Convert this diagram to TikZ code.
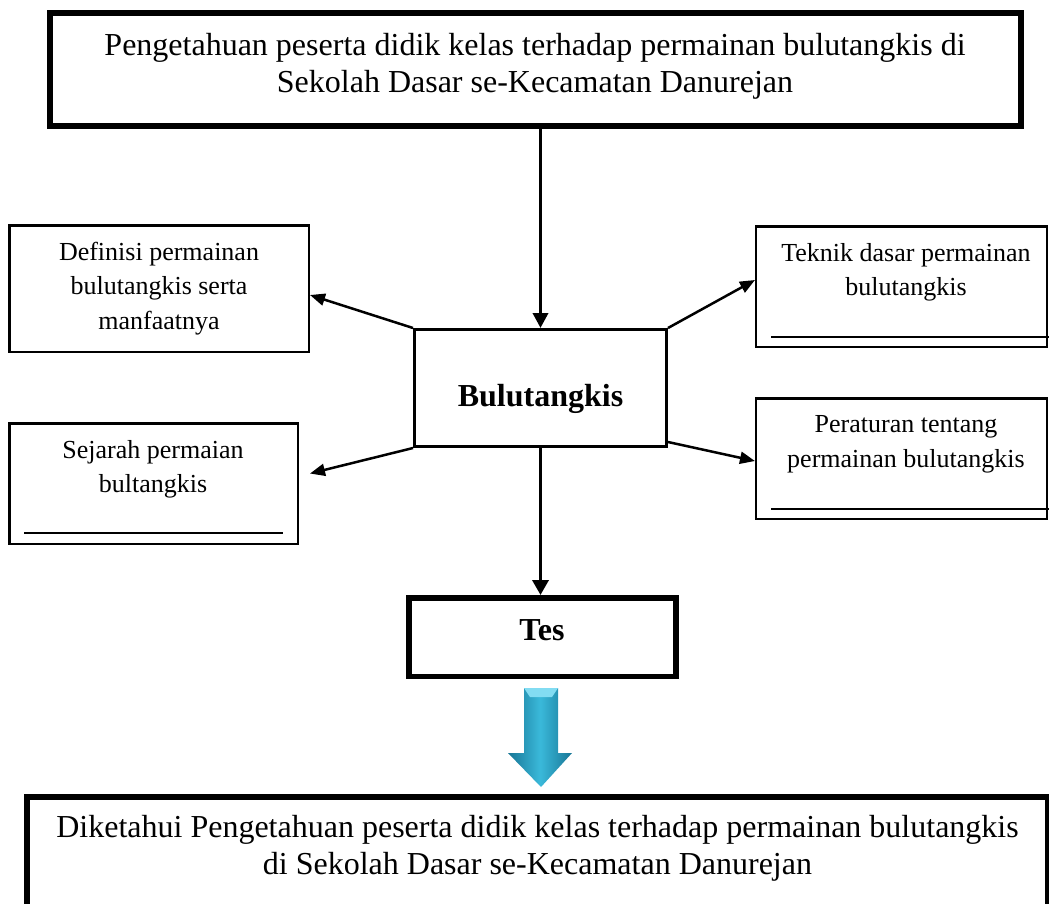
\documentclass[tikz,border=0pt]{standalone}
\usepackage{fontspec}
\setmainfont{Liberation Serif}
\usetikzlibrary{arrows.meta}

\definecolor{biru}{RGB}{58,185,218}
\definecolor{birutua}{RGB}{24,118,150}
\definecolor{birumuda}{RGB}{130,220,242}

\tikzset{
  kotak/.style={draw,line width=2.5pt,inner sep=0pt},
  tebal/.style={draw,line width=6pt,inner sep=0pt},
  teks/.style={inner sep=0pt,align=center,font=\fontsize{26}{34.5}\selectfont},
  teksbesar/.style={inner sep=0pt,align=center,font=\fontsize{32}{37}\selectfont},
  panah/.style={line width=2.5pt,-{Triangle[length=15pt,width=12pt]}},
}

\begin{document}
\begin{tikzpicture}[x=1pt,y=-1pt]
\useasboundingbox (0,0) rectangle (1049,903);
\clip (0,0) rectangle (1049,903);

% judul atas
\node[tebal,minimum width=970.5pt,minimum height=112.5pt] (judul) at (535.25,69.25) {};
\node[teksbesar] (judulteks) at (535,66) {Pengetahuan peserta didik kelas terhadap permainan bulutangkis di\\Sekolah Dasar se-Kecamatan Danurejan};

% tengah
\node[draw,line width=3pt,inner sep=0pt,minimum width=252pt,minimum height=117pt] (bul) at (540.5,388) {};
\node[inner sep=0pt,anchor=base,font=\fontsize{32}{37}\selectfont\bfseries] (bulteks) at (540.5,406) {Bulutangkis};

% kiri
\node[kotak,minimum width=299.5pt,minimum height=126.5pt] (def) at (159,288.5) {};
\node[teks] (defteks) at (159,288.5) {Definisi permainan\\bulutangkis serta\\manfaatnya};

\node[kotak,minimum width=288.5pt,minimum height=120.5pt] (sej) at (153.5,483.5) {};
\node[teks] (sejteks) at (153,469.2) {Sejarah permaian\\bultangkis};
\draw[line width=2.5pt] (24,533) -- (283,533);

% kanan
\node[kotak,minimum width=290.75pt,minimum height=120.5pt] (tek) at (901.6,286.5) {};
\node[teks] (tekteks) at (906,272.2) {Teknik dasar permainan\\bulutangkis};
\draw[line width=2.5pt] (771,337) -- (1049,337);

\node[kotak,minimum width=290.75pt,minimum height=120.5pt] (per) at (901.6,458.5) {};
\node[teks] (perteks) at (906,444.5) {Peraturan tentang\\permainan bulutangkis};
\draw[line width=2.5pt] (771,509) -- (1049,509);

% tes
\node[draw,line width=5.5pt,inner sep=0pt,minimum width=267pt,minimum height=78.5pt] (tes) at (542.5,637) {};
\node[inner sep=0pt,anchor=base,font=\fontsize{32}{37}\selectfont\bfseries] (testeks) at (542,640) {Tes};

% hasil
\node[tebal,minimum width=1021pt,minimum height=133.5pt] (hasil) at (537.5,863.25) {};
\node[teksbesar] (hasilteks) at (537.5,848) {Diketahui Pengetahuan peserta didik kelas terhadap permainan bulutangkis\\di Sekolah Dasar se-Kecamatan Danurejan};

% panah
\draw[line width=3.5pt,-{Triangle[length=15pt,width=15pt]}] (bul.north |- judul.south) -- (bul.north);
\draw[line width=3.5pt,-{Triangle[length=15pt,width=16pt]}] (bul.south) -- (bul.south |- tes.north);

\draw[panah] (bul.north west) -- ([yshift=-6.5pt]def.east);
\draw[panah] (bul.south west) -- ([xshift=11pt,yshift=10pt]sej.east);
\draw[panah] (bul.north east) -- ([yshift=6.5pt]tek.west);
\draw[panah] ([yshift=6pt]bul.south east) -- ([yshift=-2.5pt]per.west);

% panah biru
\shade[left color=birutua,right color=birutua,middle color=biru]
  (524,688) -- (558,688) -- (558,753) -- (572,753) -- (541,787) -- (508,753) -- (524,753) -- cycle;
\fill[birumuda] (524,688) -- (558,688) -- (552,697) -- (530,697) -- cycle;

\end{tikzpicture}
\end{document}
